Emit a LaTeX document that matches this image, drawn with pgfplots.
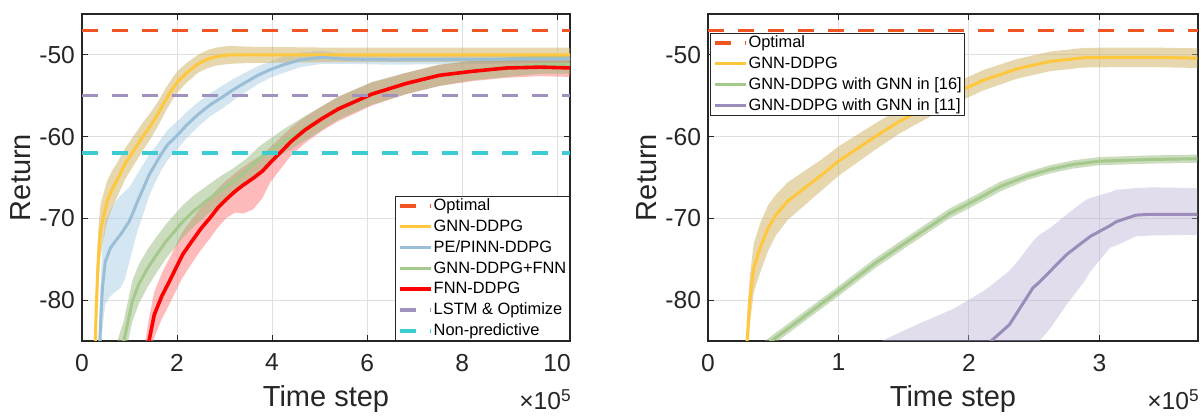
\documentclass[border=0pt]{standalone}
\usepackage{fontspec}
\setmainfont{Liberation Sans}
\usepackage{pgfplots}
\pgfplotsset{compat=1.18}
\usepackage{pgfplotstable}
\usepgfplotslibrary{fillbetween}

\definecolor{optc}{RGB}{240,85,35}
\definecolor{yelc}{RGB}{255,200,60}
\definecolor{yelb}{RGB}{205,175,95}
\definecolor{bluc}{RGB}{155,190,215}
\definecolor{blub}{RGB}{160,200,225}
\definecolor{grnc}{RGB}{165,200,140}
\definecolor{grnb}{RGB}{140,180,110}
\definecolor{redc}{RGB}{255,0,0}
\definecolor{redb}{RGB}{255,120,120}
\definecolor{purc}{RGB}{155,140,185}
\definecolor{purb}{RGB}{180,170,210}
\definecolor{lstc}{RGB}{160,145,190}
\definecolor{cyac}{RGB}{60,205,210}

% x in units of 1e5 time steps; lo/hi = shaded band
\pgfplotstableread{
x y lo hi
0.22 -96 -100 -92
0.26 -89 -93 -85
0.28 -85 -89 -81
0.30 -81 -85 -77
0.33 -76.5 -80.3 -72.7
0.36 -73.5 -77 -70
0.39 -71.5 -74.7 -68.3
0.45 -69.8 -72.6 -67
0.53 -67.9 -70.4 -65.4
0.63 -66.5 -68.8 -64.2
0.74 -65.3 -67.4 -63.2
0.90 -63.4 -65.3 -61.5
1.10 -61.6 -63.4 -59.8
1.28 -60 -61.7 -58.3
1.45 -58.6 -60.2 -57
1.60 -57.2 -58.7 -55.7
1.77 -55.4 -56.8 -54
1.90 -54.2 -55.55 -52.85
2.01 -53.3 -54.6 -52
2.20 -52.2 -53.4 -51
2.44 -51.1 -52.2 -50
2.65 -50.5 -51.6 -49.4
2.83 -50.2 -51.3 -49.1
3.10 -50 -51.1 -48.9
3.50 -50 -51 -49
5.00 -50 -50.9 -49.1
10.3 -50 -50.9 -49.1
}\gnnL
\pgfplotstableread{
x y lo hi
0.33 -92 -97 -87
0.37 -86 -91 -81
0.39 -83 -88 -78
0.43 -78.5 -83.5 -73.5
0.49 -75.3 -80.5 -70.5
0.60 -73.6 -79.5 -69
0.70 -72.8 -79 -68
0.81 -72 -78.5 -67.2
0.90 -71.2 -77.5 -66.7
0.99 -70.4 -75.5 -66.2
1.08 -69.2 -73.5 -65.4
1.17 -67.9 -71.5 -64.5
1.30 -66.2 -69.3 -63.3
1.41 -64.7 -67.3 -62.2
1.55 -63.3 -65.5 -61.2
1.66 -62.2 -64.2 -60.3
1.80 -61 -62.9 -59.2
2.01 -59.8 -61.5 -58.1
2.20 -58.6 -60.2 -57
2.44 -57.3 -58.8 -55.8
2.70 -56.1 -57.5 -54.7
2.97 -55.1 -56.5 -53.7
3.20 -54.2 -55.5 -52.9
3.46 -53.3 -54.5 -52.1
3.70 -52.5 -53.6 -51.4
3.96 -51.8 -52.8 -50.8
4.24 -51.2 -52.2 -50.2
4.60 -50.6 -51.5 -49.7
5.04 -50.3 -51.1 -49.5
5.50 -50.5 -51.1 -49.9
6.50 -50.6 -51.2 -50
10.3 -50.5 -51 -50
}\peL
\pgfplotstableread{
x y lo hi
0.55 -92 -94.5 -89.5
0.70 -88.3 -90.8 -85.8
0.88 -85 -87.5 -82.5
1.06 -80.1 -82.6 -77.6
1.20 -78 -80.4 -75.6
1.38 -76.1 -78.4 -73.8
1.55 -74.6 -76.8 -72.4
1.77 -72.8 -74.9 -70.7
2.12 -70.4 -72.4 -68.4
2.35 -69.1 -71 -67.2
2.61 -67.9 -69.7 -66.1
2.90 -66.6 -68.3 -64.9
3.18 -65.5 -67.1 -63.9
3.46 -64.2 -65.7 -62.7
3.75 -62.6 -64.1 -61.1
4.00 -61.6 -63.1 -60.1
4.24 -60.6 -62.1 -59.1
4.69 -59 -60.5 -57.5
5.40 -56.5 -57.9 -55.1
6.10 -54.7 -56.1 -53.3
6.82 -53.5 -54.8 -52.2
7.52 -52.5 -53.8 -51.2
8.23 -51.9 -53.1 -50.7
8.94 -51.5 -52.7 -50.3
9.65 -51.2 -52.3 -50.1
10.3 -51.2 -52.3 -50.1
}\gfL
\pgfplotstableread{
x y lo hi
1.30 -89 -91.8 -86.2
1.41 -85 -87.8 -82.2
1.52 -81.8 -84.6 -79
1.68 -79.5 -82.3 -76.7
1.84 -77.7 -80.5 -74.9
2.00 -75.8 -78.6 -73
2.12 -74.4 -77.2 -71.6
2.30 -72.9 -75.6 -70.2
2.51 -71.2 -73.8 -68.6
2.70 -69.9 -72.4 -67.4
2.86 -68.7 -71.1 -66.3
3.05 -67.6 -69.9 -65.3
3.22 -66.7 -69.3 -64.5
3.40 -65.9 -69.4 -63.7
3.60 -65.1 -68.9 -62.9
3.80 -64.2 -67.5 -62.2
3.96 -63.2 -65.6 -61.3
4.20 -61.8 -63.8 -60
4.40 -60.6 -62.3 -58.9
4.69 -59.2 -60.8 -57.6
5.05 -57.8 -59.3 -56.3
5.40 -56.6 -58.1 -55.1
6.10 -54.8 -56.2 -53.4
6.82 -53.5 -54.8 -52.2
7.52 -52.5 -53.8 -51.2
8.23 -52 -53.2 -50.8
8.94 -51.6 -52.8 -50.4
9.65 -51.5 -52.6 -50.4
10.3 -51.6 -52.7 -50.5
}\fnnL
\pgfplotstableread{
x y lo hi
0.28 -94 -97 -91
0.30 -85 -88 -82
0.32 -80.1 -83.1 -77.1
0.35 -76.1 -79.1 -73.1
0.40 -73.6 -76.6 -70.6
0.46 -71.2 -74 -68.4
0.52 -69.6 -72.1 -67.1
0.61 -67.9 -70.2 -65.6
0.74 -66.3 -68.4 -64.2
0.87 -64.7 -66.6 -62.8
1.00 -63 -64.8 -61.2
1.15 -61.4 -63.1 -59.7
1.30 -59.8 -61.4 -58.2
1.47 -58.1 -59.6 -56.6
1.65 -56.6 -58 -55.2
1.85 -55 -56.3 -53.7
2.00 -53.9 -55.15 -52.65
2.11 -53.1 -54.35 -51.85
2.37 -51.7 -52.9 -50.5
2.62 -50.8 -52 -49.6
2.88 -50.35 -51.55 -49.15
3.13 -50.3 -51.5 -49.1
3.40 -50.3 -51.5 -49.1
3.75 -50.4 -51.6 -49.2
}\gnnR
\pgfplotstableread{
x y lo hi
0.40 -86 -86.6 -85.4
0.485 -85 -85.6 -84.4
1.00 -78.9 -79.5 -78.3
1.28 -75.5 -76.1 -74.9
1.53 -72.8 -73.4 -72.2
1.85 -69.4 -70 -68.8
2.01 -68.1 -68.7 -67.5
2.24 -66.1 -66.7 -65.5
2.45 -64.8 -65.3 -64.3
2.62 -64 -64.5 -63.5
2.80 -63.4 -63.9 -62.9
3.00 -63 -63.5 -62.5
3.39 -62.8 -63.3 -62.3
3.75 -62.7 -63.2 -62.2
}\sixR
\pgfplotstableread{
x y lo hi
1.30 -100 -110 -85.5
1.33 -99 -108 -85
1.60 -96 -104 -83
1.89 -92 -100 -81
2.11 -87 -96 -78.9
2.17 -85 -94 -78.2
2.31 -83 -90 -76.4
2.37 -81.5 -88.5 -75.3
2.49 -78.5 -86 -72.8
2.54 -77.8 -85 -72
2.62 -76.5 -83.5 -71.2
2.75 -74.4 -80.5 -69.5
2.88 -72.8 -77.8 -67.9
2.93 -72.2 -76.5 -67.5
3.08 -70.9 -73.6 -66.8
3.13 -70.4 -73.3 -66.5
3.28 -69.6 -72.2 -66.3
3.39 -69.5 -72.1 -66.2
3.75 -69.5 -72 -66.3
}\eleR

\pgfplotsset{
  myax/.style={
    scale only axis, height=163.5pt,
    ymin=-85, ymax=-45, xmin=0,
    ytick={-80,-70,-60,-50}, yticklabels={-80,-70,-60,-50},
    tick align=inside, major tick length=3pt,
    axis line style={draw=black!85, line width=0.6pt},
    tick style={black!85, line width=0.5pt},
    grid=major, major grid style={black!12, line width=0.5pt},
    ticklabel style={font=\fontsize{12.3}{14}\selectfont, text=black!85},
    xticklabel style={yshift=-3pt},
    xlabel={Time step}, ylabel={Return},
    every axis y label/.style={at={(axis description cs:-0.125,0.5)},rotate=90,anchor=center,
      font=\fontsize{14.5}{16}\selectfont, text=black!85},
    every axis x label/.style={at={(axis description cs:0.5,-0.115)},anchor=north,
      font=\fontsize{14.5}{16}\selectfont, text=black!85},
    legend cell align=left,
    legend image code/.code={\draw[#1] (0pt,0pt) -- (15.5pt,0pt);},
    legend style={font=\fontsize{8.2}{9}\selectfont, draw=black!85, line width=0.5pt,
      inner xsep=1pt, inner ysep=0.3pt, row sep=1.4pt,
      nodes={inner sep=0.6pt, text height=6.2pt, text depth=1.6pt}},
  },
  band/.style={draw=none, forget plot},
  dashl/.style={line width=1.7pt, dash pattern=on 8pt off 7pt},
}

\begin{document}
\begin{tikzpicture}
\begin{axis}[myax, width=244pt, xmax=10.27,
  xtick={0,2,4,6,8,10}, xticklabels={0,2,4,6,8,10},
  legend style={at={(1,0)}, anchor=south east}]
\addplot[band, name path=a1] table[x=x,y=hi]{\peL};
\addplot[band, name path=a2] table[x=x,y=lo]{\peL};
\addplot[fill=blub, fill opacity=0.45, forget plot] fill between[of=a1 and a2];
\addplot[band, name path=b1] table[x=x,y=hi]{\gnnL};
\addplot[band, name path=b2] table[x=x,y=lo]{\gnnL};
\addplot[fill=yelb, fill opacity=0.5, forget plot] fill between[of=b1 and b2];
\addplot[band, name path=c1] table[x=x,y=hi]{\fnnL};
\addplot[band, name path=c2] table[x=x,y=lo]{\fnnL};
\addplot[fill=redb, fill opacity=0.5, forget plot] fill between[of=c1 and c2];
\addplot[band, name path=d1] table[x=x,y=hi]{\gfL};
\addplot[band, name path=d2] table[x=x,y=lo]{\gfL};
\addplot[fill=grnb, fill opacity=0.45, forget plot] fill between[of=d1 and d2];

\addplot[optc, dashl] coordinates {(0,-47) (10.27,-47)};
\addlegendentry{Optimal}
\addplot[yelc, line width=1.5pt] table[x=x,y=y]{\gnnL};
\addlegendentry{GNN-DDPG}
\addplot[bluc, line width=1.5pt] table[x=x,y=y]{\peL};
\addlegendentry{PE/PINN-DDPG}
\addplot[grnc, line width=1.5pt] table[x=x,y=y]{\gfL};
\addlegendentry{GNN-DDPG+FNN}
\addplot[redc, line width=1.8pt] table[x=x,y=y]{\fnnL};
\addlegendentry{FNN-DDPG}
\addplot[lstc, dashl] coordinates {(0,-55) (10.27,-55)};
\addlegendentry{LSTM \& Optimize}
\addplot[cyac, dashl] coordinates {(0,-62) (10.27,-62)};
\addlegendentry{Non-predictive}
\end{axis}
\node[anchor=north east, font=\fontsize{12.3}{14}\selectfont, text=black!85, inner sep=0pt] at (245pt,-24pt) {×10\textsuperscript{5}};

\begin{axis}[myax, xshift=313pt, width=245pt, xmax=3.755,
  xtick={0,1,2,3}, xticklabels={0,1,2,3},
  legend style={at={(0.005,0.942)}, anchor=north west}]
\addplot[band, name path=e1] table[x=x,y=hi]{\gnnR};
\addplot[band, name path=e2] table[x=x,y=lo]{\gnnR};
\addplot[fill=yelb, fill opacity=0.5, forget plot] fill between[of=e1 and e2];
\addplot[band, name path=f1] table[x=x,y=hi]{\sixR};
\addplot[band, name path=f2] table[x=x,y=lo]{\sixR};
\addplot[fill=grnb, fill opacity=0.45, forget plot] fill between[of=f1 and f2];
\addplot[band, name path=g1] table[x=x,y=hi]{\eleR};
\addplot[band, name path=g2] table[x=x,y=lo]{\eleR};
\addplot[fill=purb, fill opacity=0.4, forget plot] fill between[of=g1 and g2];

\addplot[optc, dashl] coordinates {(0,-47) (3.755,-47)};
\addlegendentry{Optimal}
\addplot[yelc, line width=1.5pt] table[x=x,y=y]{\gnnR};
\addlegendentry{GNN-DDPG}
\addplot[grnc, line width=1.5pt] table[x=x,y=y]{\sixR};
\addlegendentry{GNN-DDPG with GNN in [16]}
\addplot[purc, line width=1.5pt] table[x=x,y=y]{\eleR};
\addlegendentry{GNN-DDPG with GNN in [11]}
\end{axis}
\node[anchor=north east, font=\fontsize{12.3}{14}\selectfont, text=black!85, inner sep=0pt] at (559pt,-24pt) {×10\textsuperscript{5}};
\useasboundingbox (-41pt,-36pt) rectangle (559.5pt,170.5pt);
\end{tikzpicture}
\end{document}
